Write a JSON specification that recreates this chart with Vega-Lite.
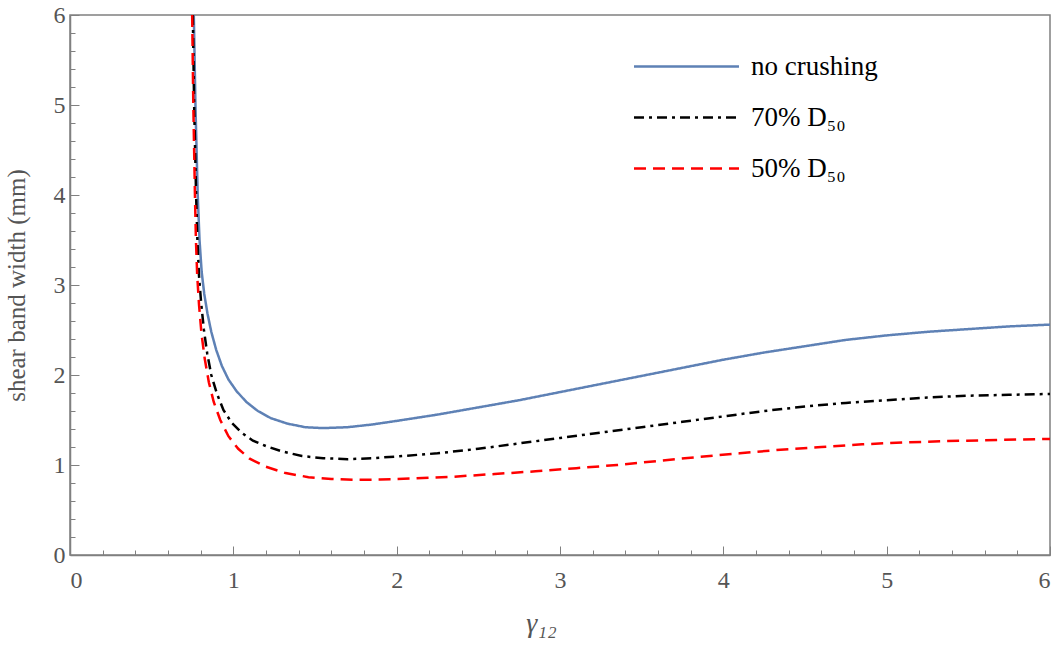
{
  "$schema": "https://vega.github.io/schema/vega-lite/v6.json",
  "autosize": {"type": "none"},
  "width": 980,
  "height": 540,
  "padding": {"left": 70, "top": 15, "right": 9, "bottom": 93},
  "background": "white",
  "config": {
    "view": {"stroke": "#808080", "strokeWidth": 1.5},
    "font": "Liberation Serif",
    "axis": {
      "grid": false,
      "domainColor": "#808080",
      "domainWidth": 1.5,
      "tickColor": "#808080",
      "tickWidth": 1,
      "labelColor": "#555555",
      "titleColor": "#555555",
      "labelFont": "Liberation Serif",
      "titleFont": "Liberation Serif",
      "labelFontSize": 24,
      "titleFontSize": 25,
      "titleFontWeight": "normal"
    }
  },
  "data": {
    "values": [
      {"s": "no crushing", "x": 0.758, "y": 6.0},
      {"s": "no crushing", "x": 0.768, "y": 5.0},
      {"s": "no crushing", "x": 0.782, "y": 4.0},
      {"s": "no crushing", "x": 0.793, "y": 3.5},
      {"s": "no crushing", "x": 0.806, "y": 3.15},
      {"s": "no crushing", "x": 0.822, "y": 2.9},
      {"s": "no crushing", "x": 0.842, "y": 2.68},
      {"s": "no crushing", "x": 0.865, "y": 2.48},
      {"s": "no crushing", "x": 0.895, "y": 2.28},
      {"s": "no crushing", "x": 0.93, "y": 2.1},
      {"s": "no crushing", "x": 0.97, "y": 1.95},
      {"s": "no crushing", "x": 1.02, "y": 1.82},
      {"s": "no crushing", "x": 1.08, "y": 1.7},
      {"s": "no crushing", "x": 1.15, "y": 1.6},
      {"s": "no crushing", "x": 1.23, "y": 1.52},
      {"s": "no crushing", "x": 1.33, "y": 1.46},
      {"s": "no crushing", "x": 1.44, "y": 1.42},
      {"s": "no crushing", "x": 1.55, "y": 1.41},
      {"s": "no crushing", "x": 1.7, "y": 1.42},
      {"s": "no crushing", "x": 1.85, "y": 1.45},
      {"s": "no crushing", "x": 2.0, "y": 1.49},
      {"s": "no crushing", "x": 2.25, "y": 1.56},
      {"s": "no crushing", "x": 2.5, "y": 1.64},
      {"s": "no crushing", "x": 2.75, "y": 1.72},
      {"s": "no crushing", "x": 3.0, "y": 1.81},
      {"s": "no crushing", "x": 3.25, "y": 1.9},
      {"s": "no crushing", "x": 3.5, "y": 1.99},
      {"s": "no crushing", "x": 3.75, "y": 2.08},
      {"s": "no crushing", "x": 4.0, "y": 2.17},
      {"s": "no crushing", "x": 4.25, "y": 2.25},
      {"s": "no crushing", "x": 4.5, "y": 2.32},
      {"s": "no crushing", "x": 4.75, "y": 2.39},
      {"s": "no crushing", "x": 5.0, "y": 2.44},
      {"s": "no crushing", "x": 5.25, "y": 2.48},
      {"s": "no crushing", "x": 5.5, "y": 2.51},
      {"s": "no crushing", "x": 5.75, "y": 2.54},
      {"s": "no crushing", "x": 6.0, "y": 2.56},
      {"s": "70% D₅₀", "x": 0.752, "y": 6.0},
      {"s": "70% D₅₀", "x": 0.76, "y": 5.0},
      {"s": "70% D₅₀", "x": 0.772, "y": 4.0},
      {"s": "70% D₅₀", "x": 0.78, "y": 3.5},
      {"s": "70% D₅₀", "x": 0.79, "y": 3.1},
      {"s": "70% D₅₀", "x": 0.803, "y": 2.8},
      {"s": "70% D₅₀", "x": 0.82, "y": 2.5},
      {"s": "70% D₅₀", "x": 0.84, "y": 2.24},
      {"s": "70% D₅₀", "x": 0.865, "y": 2.0},
      {"s": "70% D₅₀", "x": 0.9, "y": 1.79},
      {"s": "70% D₅₀", "x": 0.94, "y": 1.61},
      {"s": "70% D₅₀", "x": 0.99, "y": 1.47},
      {"s": "70% D₅₀", "x": 1.05, "y": 1.36},
      {"s": "70% D₅₀", "x": 1.12, "y": 1.27},
      {"s": "70% D₅₀", "x": 1.2, "y": 1.21},
      {"s": "70% D₅₀", "x": 1.3, "y": 1.15},
      {"s": "70% D₅₀", "x": 1.42, "y": 1.1},
      {"s": "70% D₅₀", "x": 1.55, "y": 1.075},
      {"s": "70% D₅₀", "x": 1.7, "y": 1.065},
      {"s": "70% D₅₀", "x": 1.85, "y": 1.075},
      {"s": "70% D₅₀", "x": 2.0, "y": 1.095},
      {"s": "70% D₅₀", "x": 2.25, "y": 1.13},
      {"s": "70% D₅₀", "x": 2.5, "y": 1.18},
      {"s": "70% D₅₀", "x": 2.75, "y": 1.24},
      {"s": "70% D₅₀", "x": 3.0, "y": 1.3},
      {"s": "70% D₅₀", "x": 3.25, "y": 1.36},
      {"s": "70% D₅₀", "x": 3.5, "y": 1.42},
      {"s": "70% D₅₀", "x": 3.75, "y": 1.48},
      {"s": "70% D₅₀", "x": 4.0, "y": 1.54},
      {"s": "70% D₅₀", "x": 4.25, "y": 1.6},
      {"s": "70% D₅₀", "x": 4.5, "y": 1.65},
      {"s": "70% D₅₀", "x": 4.75, "y": 1.69},
      {"s": "70% D₅₀", "x": 5.0, "y": 1.72},
      {"s": "70% D₅₀", "x": 5.25, "y": 1.75},
      {"s": "70% D₅₀", "x": 5.5, "y": 1.77},
      {"s": "70% D₅₀", "x": 5.75, "y": 1.78},
      {"s": "70% D₅₀", "x": 6.0, "y": 1.79},
      {"s": "50% D₅₀", "x": 0.748, "y": 6.0},
      {"s": "50% D₅₀", "x": 0.755, "y": 5.0},
      {"s": "50% D₅₀", "x": 0.765, "y": 4.0},
      {"s": "50% D₅₀", "x": 0.771, "y": 3.5},
      {"s": "50% D₅₀", "x": 0.779, "y": 3.1},
      {"s": "50% D₅₀", "x": 0.79, "y": 2.78},
      {"s": "50% D₅₀", "x": 0.805, "y": 2.46},
      {"s": "50% D₅₀", "x": 0.825, "y": 2.18},
      {"s": "50% D₅₀", "x": 0.85, "y": 1.92},
      {"s": "50% D₅₀", "x": 0.88, "y": 1.7},
      {"s": "50% D₅₀", "x": 0.92, "y": 1.5},
      {"s": "50% D₅₀", "x": 0.97, "y": 1.32},
      {"s": "50% D₅₀", "x": 1.03, "y": 1.18},
      {"s": "50% D₅₀", "x": 1.1, "y": 1.07},
      {"s": "50% D₅₀", "x": 1.2, "y": 0.98},
      {"s": "50% D₅₀", "x": 1.32, "y": 0.91},
      {"s": "50% D₅₀", "x": 1.46, "y": 0.865},
      {"s": "50% D₅₀", "x": 1.6, "y": 0.845},
      {"s": "50% D₅₀", "x": 1.75, "y": 0.835},
      {"s": "50% D₅₀", "x": 1.9, "y": 0.838},
      {"s": "50% D₅₀", "x": 2.1, "y": 0.85},
      {"s": "50% D₅₀", "x": 2.35, "y": 0.87},
      {"s": "50% D₅₀", "x": 2.6, "y": 0.9},
      {"s": "50% D₅₀", "x": 2.85, "y": 0.93},
      {"s": "50% D₅₀", "x": 3.1, "y": 0.965},
      {"s": "50% D₅₀", "x": 3.35, "y": 1.0},
      {"s": "50% D₅₀", "x": 3.6, "y": 1.045},
      {"s": "50% D₅₀", "x": 3.85, "y": 1.09},
      {"s": "50% D₅₀", "x": 4.1, "y": 1.13},
      {"s": "50% D₅₀", "x": 4.35, "y": 1.17},
      {"s": "50% D₅₀", "x": 4.6, "y": 1.2},
      {"s": "50% D₅₀", "x": 4.85, "y": 1.23},
      {"s": "50% D₅₀", "x": 5.1, "y": 1.25},
      {"s": "50% D₅₀", "x": 5.35, "y": 1.265},
      {"s": "50% D₅₀", "x": 5.6, "y": 1.275},
      {"s": "50% D₅₀", "x": 6.0, "y": 1.29}
    ]
  },
  "resolve": {"axis": {"x": "independent", "y": "independent"}},
  "layer": [
    {
      "mark": {"type": "point", "opacity": 0},
      "encoding": {
        "x": {"field": "x", "type": "quantitative", "scale": {"domain": [0, 6], "nice": false},
          "axis": {"values": [0.2,0.4,0.6,0.8,1.2,1.4,1.6,1.8,2.2,2.4,2.6,2.8,3.2,3.4,3.6,3.8,4.2,4.4,4.6,4.8,5.2,5.4,5.6,5.8], "labels": false, "tickSize": -5, "domain": false, "title": null, "orient": "bottom"}},
        "y": {"field": "y", "type": "quantitative", "scale": {"domain": [0, 6], "nice": false},
          "axis": {"values": [0.2,0.4,0.6,0.8,1.2,1.4,1.6,1.8,2.2,2.4,2.6,2.8,3.2,3.4,3.6,3.8,4.2,4.4,4.6,4.8,5.2,5.4,5.6,5.8], "labels": false, "tickSize": -5, "domain": false, "title": null, "orient": "left"}}
      }
    },
    {
      "mark": {"type": "line", "strokeWidth": 2.5, "clip": true},
      "encoding": {
        "x": {"field": "x", "type": "quantitative", "scale": {"domain": [0, 6], "nice": false},
          "axis": {"values": [0,1,2,3,4,5,6], "tickSize": -9, "labelPadding": 22, "labelFont": "Liberation Serif", "labelFontSize": 24, "titleFont": "Liberation Serif", "title": "γ₁₂", "titleFontSize": 28, "titleFontStyle": "italic", "titleFontWeight": "normal", "titlePadding": 17, "titleX": 471, "orient": "bottom"}},
        "y": {"field": "y", "type": "quantitative", "scale": {"domain": [0, 6], "nice": false},
          "axis": {"values": [0,1,2,3,4,5,6], "tickSize": -9, "labelPadding": 14, "labelFont": "Liberation Serif", "labelFontSize": 24, "titleFont": "Liberation Serif", "title": "shear band width (mm)", "titleFontSize": 25, "titleFontWeight": "normal", "titlePadding": 24, "orient": "left"}},
        "color": {"field": "s", "type": "nominal",
          "scale": {"domain": ["no crushing", "70% D₅₀", "50% D₅₀"], "range": ["#5E81B5", "#000000", "#FF0000"]},
          "legend": {"orient": "none", "legendX": 589, "legendY": 24, "title": null, "symbolType": "M-2,0H2", "symbolSize": 2756, "symbolStrokeWidth": 2.5, "labelFont": "Liberation Serif", "labelFontSize": 27, "labelColor": "#000000", "rowPadding": 10, "labelOffset": 37}},
        "strokeDash": {"field": "s", "type": "nominal",
          "scale": {"domain": ["no crushing", "70% D₅₀", "50% D₅₀"], "range": [[1, 0], [10, 5, 3, 5], [12, 7]]},
          "legend": null}
      }
    }
  ]
}
